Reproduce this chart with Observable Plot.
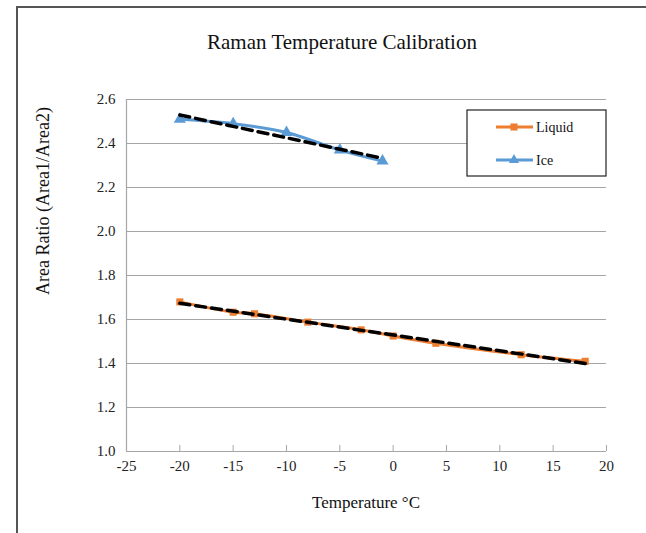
<!DOCTYPE html>
<html>
<head>
<meta charset="utf-8">
<script src="https://cdn.jsdelivr.net/npm/d3@7"></script>
<script src="https://cdn.jsdelivr.net/npm/@observablehq/plot@0.6"></script>
<style>
  html, body { margin: 0; padding: 0; background: #fff; }
  #chart svg { display: block; }
</style>
</head>
<body>
<div id="chart"></div>
<script>
const title = "Raman Temperature Calibration";
const xLabel = "Temperature °C";
const yLabel = "Area Ratio (Area1/Area2)";
const seriesNames = ["Liquid", "Ice"];
const seriesColors = ["#ED7D31", "#5B9BD5"];

const liquidTemp = [-20, -15, -13, -8, -3, 0, 4, 12, 18];
const liquidRatio = [1.68, 1.633, 1.626, 1.588, 1.553, 1.525, 1.492, 1.44, 1.41];
const iceTemp = [-20, -15, -10, -5, -1];
const iceRatio = [2.51, 2.49, 2.45, 2.37, 2.32];

const xTicks = [-25, -20, -15, -10, -5, 0, 5, 10, 15, 20];
const yTicks = [1.0, 1.2, 1.4, 1.6, 1.8, 2.0, 2.2, 2.4, 2.6];

const liquid = liquidTemp.map((t, i) => ({series: "Liquid", t, r: liquidRatio[i]}));
const ice = iceTemp.map((t, i) => ({series: "Ice", t, r: iceRatio[i]}));

const font = "'Liberation Serif', 'Times New Roman', serif";

const chart = Plot.plot({
  width: 646,
  height: 533,
  marginLeft: 126,
  marginRight: 40,
  marginTop: 99,
  marginBottom: 82,
  style: {fontFamily: font, fontSize: "15px", color: "#222", background: "#fff", overflow: "visible"},
  x: {domain: [xTicks[0], xTicks[xTicks.length - 1]]},
  y: {domain: [yTicks[0], yTicks[yTicks.length - 1]]},
  marks: [
    Plot.gridY(yTicks.slice(1), {stroke: "#a6a6a6", strokeOpacity: 1, strokeWidth: 1.2}),
    Plot.ruleX([xTicks[0]], {stroke: "#a6a6a6", strokeWidth: 1.2}),
    Plot.ruleY([yTicks[0]], {stroke: "#a6a6a6", strokeWidth: 1.2}),
    Plot.axisY(yTicks, {tickSize: 0, tickPadding: 11, tickFormat: d3.format(".1f"), label: null, fontSize: 15}),
    Plot.axisX(xTicks, {tickSize: -6, tickPadding: 15, stroke: "#a6a6a6", tickFormat: d => String(d), label: null, fontSize: 15}),
    Plot.line(liquid, {x: "t", y: "r", stroke: seriesColors[0], strokeWidth: 3, curve: "catmull-rom"}),
    Plot.dot(liquid, {x: "t", y: "r", symbol: "square", r: 4, fill: seriesColors[0], stroke: null}),
    Plot.line(ice, {x: "t", y: "r", stroke: seriesColors[1], strokeWidth: 3, curve: "catmull-rom"}),
    Plot.dot(ice, {x: "t", y: "r", symbol: "triangle", r: 4.5, fill: seriesColors[1], stroke: null}),
    Plot.linearRegressionY(liquid, {x: "t", y: "r", stroke: "#000", strokeWidth: 3.5, strokeDasharray: "10,6", ci: 0}),
    Plot.linearRegressionY(ice, {x: "t", y: "r", stroke: "#000", strokeWidth: 3.5, strokeDasharray: "10,6", ci: 0})
  ]
});

const svg = d3.select(chart);

// outer frame
svg.insert("rect", ":first-child")
  .attr("x", 17).attr("y", 7).attr("width", 660).attr("height", 560)
  .attr("fill", "none").attr("stroke", "#555").attr("stroke-width", 2);

// title
svg.append("text").attr("x", 342).attr("y", 49).attr("text-anchor", "middle")
  .attr("font-family", font).attr("font-size", 21).attr("fill", "#111").text(title);

// axis titles
svg.append("text").attr("x", 366).attr("y", 508).attr("text-anchor", "middle")
  .attr("font-family", font).attr("font-size", 17).attr("fill", "#111").text(xLabel);
svg.append("text").attr("transform", "translate(49,201) rotate(-90)").attr("text-anchor", "middle")
  .attr("font-family", font).attr("font-size", 18).attr("fill", "#111").text(yLabel);

// legend
const lg = svg.append("g");
lg.append("rect").attr("x", 467).attr("y", 110).attr("width", 139).attr("height", 66)
  .attr("fill", "#fff").attr("stroke", "#222").attr("stroke-width", 1.2);
const symbols = [d3.symbolSquare, d3.symbolTriangle];
const sizes = [50, 45];
seriesNames.forEach((name, i) => {
  const yy = 127 + i * 33;
  lg.append("line").attr("x1", 496).attr("x2", 533).attr("y1", yy).attr("y2", yy)
    .attr("stroke", seriesColors[i]).attr("stroke-width", 3);
  lg.append("path").attr("d", d3.symbol(symbols[i], sizes[i])())
    .attr("transform", `translate(514,${yy})`).attr("fill", seriesColors[i]);
  lg.append("text").attr("x", 536).attr("y", yy).attr("dy", "0.35em").attr("text-anchor", "start")
    .attr("font-family", font).attr("font-size", 14).attr("fill", "#111").text(name);
});

document.getElementById("chart").appendChild(chart);
</script>
</body>
</html>
